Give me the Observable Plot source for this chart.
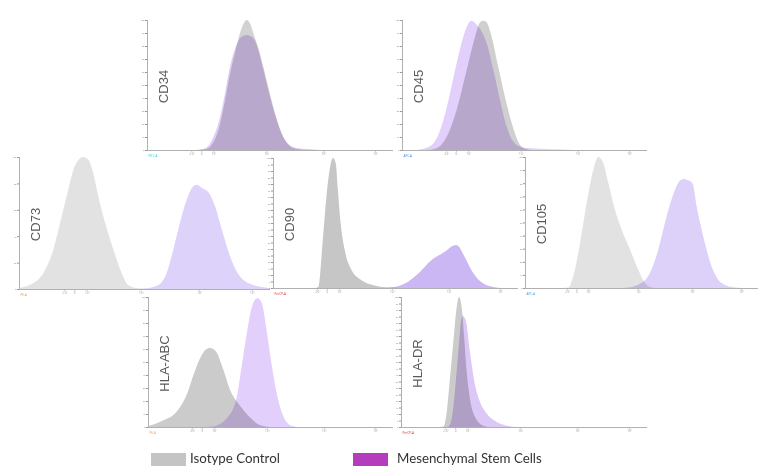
<!DOCTYPE html>
<html><head><meta charset="utf-8">
<script src="https://cdn.jsdelivr.net/npm/d3@7"></script>
<script src="https://cdn.jsdelivr.net/npm/@observablehq/plot@0.6"></script>
<style>
body{margin:0;background:#fff;}
#root{position:relative;width:759px;height:468px;overflow:hidden;background:#fff;font-family:"Liberation Sans",Arial,sans-serif;}
#root svg{position:absolute;}
.lg{position:absolute;font-family:Lato,"Open Sans",sans-serif;font-size:13.3px;color:#333;line-height:14px;white-space:nowrap;}
.sw{position:absolute;width:35px;height:13px;}
</style></head><body><div id="root"></div>
<script>
// ---- data: [fluorescence (relative channel, 0-100), count (% of panel max)] ----
const cd34Iso = [[20,0],[23.6,0.5],[27,6],[29.7,20],[31.7,38],[33.7,58],[35.8,75],[37.8,90],[39.2,97],[40.5,100],[42,97],[43.2,90],[45.2,79],[47.3,64],[50,43],[52.7,24],[55.4,10],[58,3],[60.8,0.8],[66,0]];
const cd34Msc = [[20,0],[23.6,1.3],[27,10],[29.7,25.6],[31.7,43.6],[33.7,64],[35.8,78],[37.8,86],[40.5,88.5],[43.2,86],[45.2,77],[47.3,61.5],[50,41],[52.7,23],[55.4,10],[58,3.8],[60.8,1.5],[65,0.7],[69,0.2],[72,0]];
const cd45Iso = [[10,0],[12.8,0.5],[15.5,3],[18.2,10],[22.3,30.8],[26.4,61.5],[29.8,87],[31.8,98],[33.2,99.5],[34.6,98],[36.6,87],[39.3,64],[42,41],[44.8,20.5],[47.5,6],[50.2,1],[53.5,0]];
const cd45Msc = [[5,0],[8.7,1],[12.8,5],[16.9,23],[19.6,43.6],[22.3,66.7],[25,87],[27.1,97.4],[28.4,99.5],[30.7,96],[34.6,82],[37.3,61.5],[40,38.5],[42.7,18],[46.1,5],[49.5,2],[56,1],[65.7,0.4],[70,0]];
const cd73Iso = [[0,0.8],[5.7,4.5],[9.7,12],[13.7,30],[17,55],[19.6,75],[21.6,90],[23.6,97.5],[25.6,100],[27.6,98],[29.6,87.5],[31.6,70],[34.3,50],[37.6,30],[40.9,12],[43.5,3],[46.9,0.5],[49,0]];
const cd73Msc = [[46,0],[49.5,0.3],[54.9,2.5],[58.8,12],[61.5,30],[64.1,50],[66.8,67.6],[68.8,76.4],[70.8,79],[72.8,76.5],[75.4,73.5],[78.1,62.6],[80.8,45],[84.1,24.7],[88,9.6],[93.3,3],[98.7,1],[100,0.8]];
const cd90Iso = [[17,0],[18.4,0.5],[19,6],[20,29],[21.1,55],[22.4,81],[23.6,96],[24.5,100],[25.6,96],[26.5,75],[27.6,50],[29.3,29],[32,14],[36.1,6],[41.5,2],[48.3,0.3],[52,0]];
const cd90Msc = [[45,0],[48.3,0.3],[53.8,3.4],[59.2,11],[64.6,21.4],[70.1,27.8],[73.5,32.5],[74.8,33],[75.5,32.5],[78.2,24],[81,13.7],[85,4.6],[90.5,0.5],[93,0]];
const cd105Iso = [[16,0],[18.6,0.3],[20.7,8.9],[23.6,34],[26.5,65],[29.3,90],[31.5,100],[33.6,95.5],[35.8,80],[38.6,59.8],[41.5,44.5],[45.1,29.2],[48.6,14],[51.5,3.8],[54.4,0.3],[56,0]];
const cd105Msc = [[40,0],[42.9,0.2],[48.6,2.5],[53.6,11.4],[57.2,29.2],[60.8,54.7],[64.4,75],[66.5,82],[68,83.2],[69.8,82.5],[71.9,80],[73.7,62],[76.5,39.4],[80.1,16.5],[84.4,3.8],[90.1,0.3],[93,0]];
const hlaAbcIso = [[0,0.5],[6.1,5],[11.6,11.5],[15.7,24.4],[19,42.3],[21.8,55],[23.5,59.5],[25.2,60.8],[26.6,60],[27.9,57.7],[30.6,45],[33.3,29.5],[37.4,16.7],[41.5,7.7],[45.6,1.5],[49.7,0]];
const hlaAbcMsc = [[24,0],[26.5,0.4],[32,6.4],[36.1,21.8],[38.1,45],[40.2,70.5],[42.2,91],[43.5,97.5],[44.6,99],[45.6,98],[46.7,93.6],[48.3,75.7],[50.3,50],[52.4,27],[55.1,9],[58.5,1],[61.9,0]];
const hlaDrIso = [[16,0],[17.2,0.3],[18.6,11.6],[19.9,37.5],[21.3,65.9],[22.6,91.7],[23.6,100],[24.7,91.7],[25.6,71],[26.7,42.6],[28,22],[30.1,7.7],[33.5,1],[36,0]];
const hlaDrMsc = [[18,0],[19.2,0.2],[20.6,6.5],[21.9,27],[23.3,58],[24.4,81.4],[25.1,85.3],[26.4,81.4],[28,58],[30.1,32.3],[32.1,19.4],[34.8,10.3],[38.9,3.9],[43,1],[47,0]];

const markers = ["CD34","CD45","CD73","CD90","CD105","HLA-ABC","HLA-DR"];
const isoSeries = [cd34Iso, cd45Iso, cd73Iso, cd90Iso, cd105Iso, hlaAbcIso, hlaDrIso];
const mscSeries = [cd34Msc, cd45Msc, cd73Msc, cd90Msc, cd105Msc, hlaAbcMsc, hlaDrMsc];
const channelNames = ["FITC-A","APC-A","PE-A","PerCP-A","APC-A","PE-A","PerCP-A"];
const xTickPos = [18, 22, 27, 48.5, 71.7, 92.7];
const xTickLabels = ["-10³","0","10³","10⁴","10⁵","10⁶"];
const legendLabels = ["Isotype Control", "Mesenchymal Stem Cells"];

// ---- layout & style (pixel frame of each panel) ----
const layout = [
  {x0:147, x1:393, top:20,  base:150, yTicks:8,  gray:"#d2d2d2", purple:"#e0cdf8", chan:"#3cc8d8"},
  {x0:402, x1:647, top:20,  base:150, yTicks:8,  gray:"#cfcfcf", purple:"#e2cffb", chan:"#3f8fd8"},
  {x0:19,  x1:270, top:157, base:289, yTicks:7,  gray:"#e2e2e2", purple:"#ddd2f9", chan:"#f0a050"},
  {x0:273, x1:518, top:158, base:288, yTicks:30, gray:"#c6c6c6", purple:"#cbb7f3", chan:"#e03030"},
  {x0:525, x1:758, top:157, base:288, yTicks:8,  gray:"#e2e2e2", purple:"#ddd1f9", chan:"#40a0e0"},
  {x0:148, x1:393, top:297, base:427, yTicks:12, gray:"#cbcbcb", purple:"#e3cffb", chan:"#f0a050"},
  {x0:401, x1:647, top:297, base:427, yTicks:30, gray:"#cbcbcb", purple:"#dcc8f7", chan:"#e03030"}
];
const mL = 16, mR = 2, mT = 2, mB = 12;
const root = document.getElementById("root");

markers.forEach((name, i) => {
  const L = layout[i];
  const w = L.x1 - L.x0, h = L.base - L.top;
  const svg = Plot.plot({
    width: w + mL + mR, height: h + mT + mB,
    marginLeft: mL, marginRight: mR, marginTop: mT, marginBottom: mB,
    style: {background: "transparent", overflow: "visible"},
    x: {domain: [0, 100]},
    y: {domain: [0, 100]},
    marks: [
      Plot.areaY(isoSeries[i], {x: d => d[0], y: d => d[1], fill: L.gray, curve: "monotone-x"}),
      Plot.areaY(mscSeries[i], {x: d => d[0], y: d => d[1], fill: L.purple, curve: "monotone-x", mixBlendMode: "multiply"}),
      Plot.axisY({ticks: L.yTicks, tickSize: 2, fontSize: 2.5, stroke: "#999", fill: "#999", tickPadding: 1, label: null}),
      Plot.axisX({ticks: xTickPos, tickFormat: d => xTickLabels[xTickPos.indexOf(d)], tickSize: 1.5, fontSize: 3, stroke: "#999", fill: "#999", tickPadding: 1, label: null}),
      Plot.ruleY([0], {stroke: "#b0b0b0"}),
      Plot.ruleX([0], {stroke: "#b0b0b0"}),
      Plot.text([name], {frameAnchor: "left", textAnchor: "middle", dx: 16, dy: 1, rotate: -90, fontSize: 13, fill: "#5a5a5a", fontFamily: "Liberation Sans, Arial, sans-serif"}),
      Plot.text([channelNames[i]], {frameAnchor: "bottom-left", dy: 6, dx: 1, textAnchor: "start", fontSize: 3, fill: L.chan})
    ]
  });
  svg.style.left = (L.x0 - mL) + "px";
  svg.style.top = (L.top - mT) + "px";
  svg.querySelectorAll('g[aria-label="area"]').forEach((g, k) => { if (k === 1) g.style.mixBlendMode = "multiply"; });
  root.appendChild(svg);
});

// ---- legend ----
const legendColors = ["#c4c4c4", "#b43dbb"];
const legendPos = [{sw:151, tx:190}, {sw:353, tx:397}];
legendLabels.forEach((t, i) => {
  const s = document.createElement("div");
  s.className = "sw"; s.style.left = legendPos[i].sw + "px"; s.style.top = "453px"; s.style.background = legendColors[i];
  root.appendChild(s);
  const d = document.createElement("div");
  d.className = "lg"; d.style.left = legendPos[i].tx + "px"; d.style.top = "451px"; d.textContent = t;
  root.appendChild(d);
});
</script></body></html>
